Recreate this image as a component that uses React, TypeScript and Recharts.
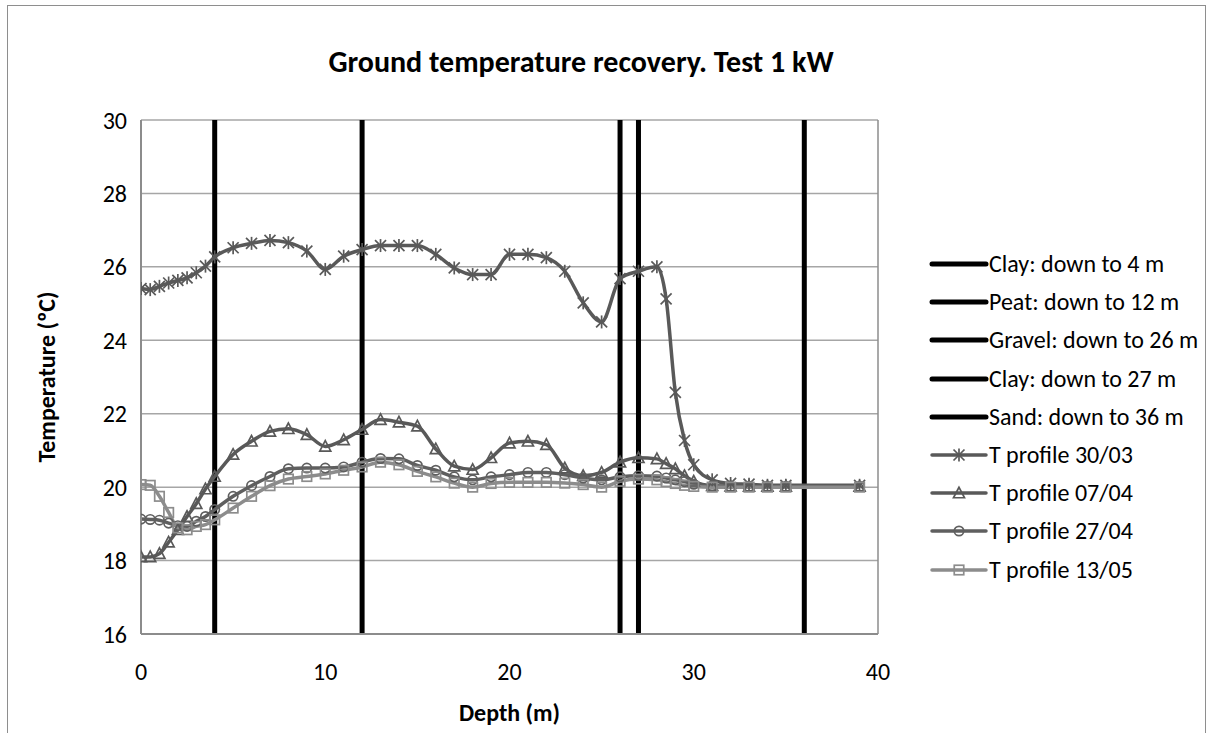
import React from 'react';
import { LineChart, Line, XAxis, YAxis, CartesianGrid, Legend, ReferenceLine, Label } from 'recharts';

const depths = [0, 0.5, 1, 1.5, 2, 2.5, 3, 3.5, 4, 5, 6, 7, 8, 9, 10, 11, 12, 13, 14, 15, 16, 17, 18, 19, 20, 21, 22, 23, 24, 25, 26, 27, 28, 28.5, 29, 29.5, 30, 31, 32, 33, 34, 35, 39];

const t3003 = [25.41, 25.38, 25.47, 25.56, 25.63, 25.7, 25.84, 26.02, 26.27, 26.52, 26.64, 26.72, 26.66, 26.43, 25.93, 26.29, 26.47, 26.58, 26.58, 26.58, 26.34, 25.97, 25.79, 25.79, 26.34, 26.34, 26.25, 25.88, 25.02, 24.5, 25.68, 25.88, 26.0, 25.13, 22.58, 21.27, 20.61, 20.2, 20.1, 20.08, 20.05, 20.05, 20.05];
const t0704 = [18.1, 18.1, 18.19, 18.5, 18.84, 19.2, 19.55, 19.95, 20.29, 20.89, 21.25, 21.52, 21.59, 21.43, 21.11, 21.29, 21.57, 21.84, 21.77, 21.66, 21.04, 20.57, 20.48, 20.8, 21.2, 21.25, 21.16, 20.52, 20.31, 20.4, 20.68, 20.8, 20.77, 20.64, 20.5, 20.31, 20.16, 20.04, 20.03, 20.02, 20.02, 20.02, 20.02];
const t2704 = [19.13, 19.12, 19.1, 19.02, 18.95, 18.93, 19.07, 19.2, 19.39, 19.75, 20.04, 20.29, 20.5, 20.52, 20.52, 20.55, 20.68, 20.78, 20.77, 20.59, 20.46, 20.28, 20.2, 20.28, 20.34, 20.4, 20.4, 20.34, 20.25, 20.2, 20.28, 20.31, 20.3, 20.25, 20.2, 20.15, 20.08, 20.03, 20.02, 20.02, 20.02, 20.02, 20.02];
const t1305 = [20.07, 20.05, 19.75, 19.31, 18.89, 18.84, 18.93, 18.98, 19.11, 19.43, 19.75, 20.04, 20.22, 20.29, 20.36, 20.46, 20.55, 20.68, 20.61, 20.43, 20.28, 20.11, 20.0, 20.1, 20.13, 20.13, 20.13, 20.11, 20.07, 20.0, 20.16, 20.22, 20.2, 20.15, 20.1, 20.05, 20.02, 20.0, 20.0, 20.0, 20.0, 20.0, 20.0];

const layerDepths = [4, 12, 26, 27, 36];
const layerNames = ['Clay: down to 4 m', 'Peat: down to 12 m', 'Gravel: down to 26 m', 'Clay: down to 27 m', 'Sand: down to 36 m'];
const profileNames = ['T profile 30/03', 'T profile 07/04', 'T profile 27/04', 'T profile 13/05'];
const profileKeys = ['p3003', 'p0704', 'p2704', 'p1305'];
const profileMarkers = ['star', 'triangle', 'circle', 'square'];
const profileColors = ['#595959', '#595959', '#5f5f5f', '#8c8c8c'];

const yTicks = [16, 18, 20, 22, 24, 26, 28, 30];
const xTicks = [0, 10, 20, 30, 40];
const tempRange = [16, 30];

const data = depths.map((d, i) => ({
  depth: d,
  p3003: t3003[i],
  p0704: t0704[i],
  p2704: t2704[i],
  p1305: t1305[i],
}));

const layerData = layerDepths.map((d) => tempRange.map((t) => ({ depth: d, t })));
const legendOrder = [...layerNames, ...profileNames];

const FONT = 'Carlito, Lato, "Open Sans", sans-serif';

function Marker({ kind, cx, cy, color }: { kind: string; cx: number; cy: number; color: string }) {
  if (cx == null || cy == null || isNaN(cx) || isNaN(cy)) return null;
  const sw = 1.7;
  if (kind === 'star') {
    const s = 5.5;
    return (
      <g stroke={color} strokeWidth={sw} fill="none">
        <line x1={cx - s} y1={cy - s} x2={cx + s} y2={cy + s} />
        <line x1={cx - s} y1={cy + s} x2={cx + s} y2={cy - s} />
        <line x1={cx} y1={cy - s - 1} x2={cx} y2={cy + s + 1} />
      </g>
    );
  }
  if (kind === 'triangle') {
    const h = 9.5;
    const w = 11;
    return (
      <polygon
        points={`${cx},${cy - h / 2 - 1} ${cx - w / 2},${cy + h / 2} ${cx + w / 2},${cy + h / 2}`}
        stroke={color}
        strokeWidth={sw}
        fill="none"
      />
    );
  }
  if (kind === 'circle') {
    return <circle cx={cx} cy={cy} r={4.7} stroke={color} strokeWidth={sw} fill="none" />;
  }
  const s = 9.5;
  return <rect x={cx - s / 2} y={cy - s / 2} width={s} height={s} stroke={color} strokeWidth={sw} fill="none" />;
}

const styleByName: Record<string, { color: string; width: number; marker?: string }> = {};
layerNames.forEach((n) => (styleByName[n] = { color: '#000000', width: 5 }));
profileNames.forEach((n, i) => (styleByName[n] = { color: profileColors[i], width: 3.5, marker: profileMarkers[i] }));

const renderLegend = (props: any) => {
  const payload = [...(props.payload || [])].sort(
    (a: any, b: any) => legendOrder.indexOf(a.value) - legendOrder.indexOf(b.value)
  );
  return (
    <div style={{ width: 300 }}>
      {payload.map((e: any, i: number) => {
        const st = styleByName[e.value] || { color: e.color, width: 3 };
        return (
          <div key={i} style={{ height: 38.2, display: 'flex', alignItems: 'center', whiteSpace: 'nowrap' }}>
            <svg width={58} height={20} style={{ overflow: 'visible', flex: '0 0 auto' }}>
              <line x1={1} y1={10} x2={55} y2={10} stroke={st.color} strokeWidth={st.width} strokeLinecap="round" />
              {st.marker && <Marker kind={st.marker} cx={28} cy={10} color={st.color} />}
            </svg>
            <span style={{ fontFamily: FONT, fontSize: 24, color: '#000', lineHeight: '24px' }}>{e.value}</span>
          </div>
        );
      })}
    </div>
  );
};

export default function App() {
  return (
    <div style={{ position: 'absolute', left: 0, top: 0, width: 1213, height: 733, background: '#fff', overflow: 'hidden' }}>
      <div
        style={{
          position: 'absolute',
          left: 7,
          top: 5,
          width: 1199,
          height: 800,
          border: '1px solid #8e8e8e',
          boxSizing: 'border-box',
        }}
      />
      <div
        style={{
          position: 'absolute',
          left: 581 - 400,
          width: 800,
          top: 44,
          textAlign: 'center',
          fontFamily: FONT,
          fontWeight: 700,
          fontSize: 30,
          lineHeight: '36px',
          color: '#000',
        }}
      >
        Ground temperature recovery. Test 1 kW
      </div>
      <div style={{ position: 'absolute', left: 0, top: 0 }}>
        <LineChart width={1213} height={733} data={data} margin={{ top: 120, right: 335, bottom: 0, left: 0 }}>
          <CartesianGrid horizontal vertical={false} stroke="#a6a6a6" strokeWidth={1.5} />
          <XAxis
            dataKey="depth"
            type="number"
            domain={[0, 40]}
            ticks={xTicks}
            height={99}
            tickSize={0}
            tickMargin={29}
            axisLine={{ stroke: '#8c8c8c', strokeWidth: 2 }}
            tick={{ fill: '#000', fontSize: 24, fontFamily: FONT }}
            allowDataOverflow
          >
            <Label
              content={(p: any) => {
                const vb = p.viewBox || {};
                return (
                  <text
                    x={vb.x + vb.width / 2}
                    y={721}
                    textAnchor="middle"
                    fontFamily={FONT}
                    fontWeight={700}
                    fontSize={24}
                    fill="#000"
                  >
                    Depth (m)
                  </text>
                );
              }}
            />
          </XAxis>
          <YAxis
            type="number"
            domain={[16, 30]}
            ticks={yTicks}
            width={141}
            tickSize={0}
            tickMargin={14}
            axisLine={{ stroke: '#8c8c8c', strokeWidth: 2 }}
            tick={{ fill: '#000', fontSize: 24, fontFamily: FONT }}
            allowDataOverflow
          >
            <Label
              content={(p: any) => {
                const vb = p.viewBox || {};
                const cy = vb.y + vb.height / 2;
                return (
                  <text
                    x={46}
                    y={cy}
                    transform={`rotate(-90 46 ${cy})`}
                    textAnchor="middle"
                    dominantBaseline="central"
                    fontFamily={FONT}
                    fontWeight={700}
                    fontSize={24}
                    fill="#000"
                  >
                    Temperature (ºC)
                  </text>
                );
              }}
            />
          </YAxis>
          <ReferenceLine x={40} stroke="#8c8c8c" strokeWidth={1.5} />
          {layerData.map((ld, i) => (
            <Line
              key={layerNames[i]}
              data={ld}
              dataKey="t"
              name={layerNames[i]}
              stroke="#000"
              strokeWidth={5}
              dot={false}
              activeDot={false}
              type="linear"
              isAnimationActive={false}
            />
          ))}
          {profileKeys.map((k, i) => (
            <Line
              key={k}
              dataKey={k}
              name={profileNames[i]}
              stroke={profileColors[i]}
              strokeWidth={3.5}
              type="monotone"
              activeDot={false}
              isAnimationActive={false}
              dot={(p: any) => (
                <Marker key={`${k}-${p.index}`} kind={profileMarkers[i]} cx={p.cx} cy={p.cy} color={profileColors[i]} />
              )}
            />
          ))}
          <Legend
            layout="vertical"
            align="right"
            verticalAlign="top"
            content={renderLegend}
            wrapperStyle={{ left: 931, top: 245, width: 0, height: 0, overflow: 'visible' }}
          />
        </LineChart>
      </div>
    </div>
  );
}
